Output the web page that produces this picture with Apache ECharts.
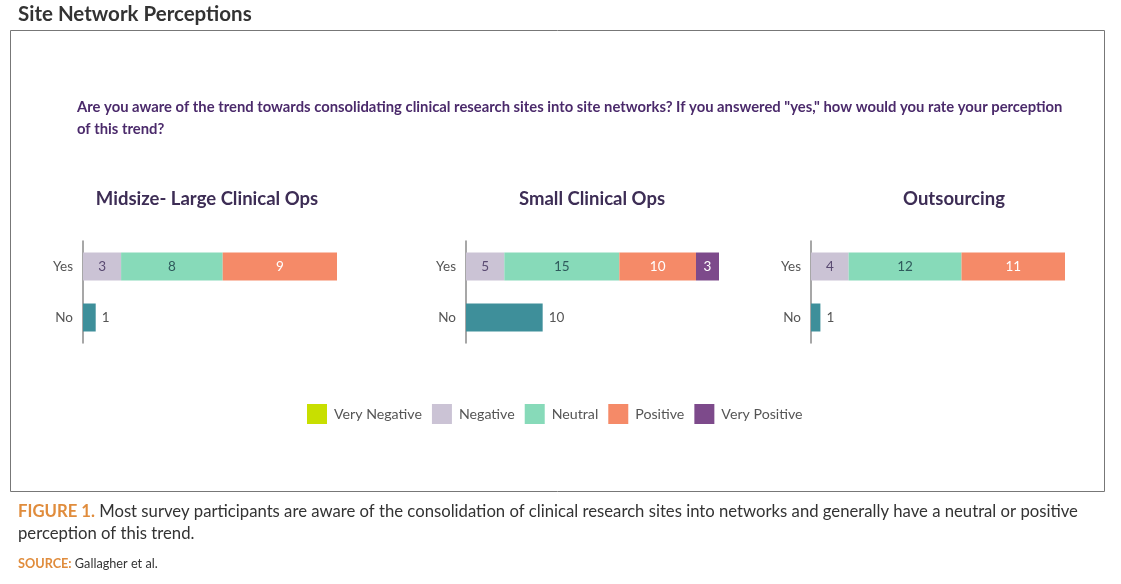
<!DOCTYPE html>
<html>
<head>
<meta charset="utf-8">
<style>
  html, body { margin: 0; padding: 0; background: #fff; }
  #main { width: 1121px; height: 584px; }
</style>
<script src="https://cdn.jsdelivr.net/npm/echarts@6/dist/echarts.min.js"></script>
</head>
<body>
<div id="main"></div>
<script>
// 数据
const groups = ['Midsize- Large Clinical Ops', 'Small Clinical Ops', 'Outsourcing']
const rows = ['Yes', 'No']
const levels = ['Very Negative', 'Negative', 'Neutral', 'Positive', 'Very Positive']
const veryNegative = [0, 0, 0]
const negative = [3, 5, 4]
const neutral = [8, 15, 12]
const positive = [9, 10, 11]
const veryPositive = [0, 3, 0]
const noCounts = [1, 10, 1]

const levelValues = [veryNegative, negative, neutral, positive, veryPositive]
const levelColors = ['#c8df00', '#cbc3d5', '#87dab9', '#f58a68', '#7d4a8b']
const labelColors = ['#333', '#5a4a72', '#2f5a5c', '#ffffff', '#ffffff']
const noColor = '#3e8f9a'

// 布局
const grids = [
  { left: 83, width: 254, titleX: 202 },
  { left: 466, width: 253, titleX: 587 },
  { left: 811, width: 254, titleX: 949 }
]
const font = 'Lato, "Open Sans", sans-serif'

const chart = echarts.init(document.getElementById('main'))

const grid = []
const xAxis = []
const yAxis = []
const series = []
const titles = []

groups.forEach((g, i) => {
  grid.push({ left: grids[i].left, width: grids[i].width, top: 241, height: 102 })
  const total = levelValues.reduce((s, arr) => s + arr[i], 0)
  xAxis.push({ gridIndex: i, type: 'value', min: 0, max: total, show: false })
  yAxis.push({
    gridIndex: i,
    type: 'category',
    data: rows,
    inverse: true,
    axisLine: { show: true, lineStyle: { color: '#8a8a8a', width: 1.5 } },
    axisTick: { show: false },
    axisLabel: { color: '#555', fontSize: 13.5, fontFamily: font, margin: 10 }
  })
  levels.forEach((name, k) => {
    series.push({
      name: name,
      type: 'bar',
      stack: 'yes' + i,
      xAxisIndex: i,
      yAxisIndex: i,
      barWidth: 28,
      itemStyle: { color: levelColors[k] },
      label: {
        show: true,
        position: 'inside',
        color: labelColors[k],
        fontSize: 13.5,
        fontFamily: font,
        formatter: p => (p.value ? p.value : '')
      },
      data: [levelValues[k][i] || '-', '-']
    })
  })
  series.push({
    name: 'No',
    type: 'bar',
    stack: 'yes' + i,
    xAxisIndex: i,
    yAxisIndex: i,
    barWidth: 28,
    itemStyle: { color: noColor },
    label: {
      show: true,
      position: 'right',
      distance: 6,
      color: '#555',
      fontSize: 13.5,
      fontFamily: font
    },
    data: ['-', noCounts[i]]
  })
  titles.push({
    text: g,
    left: grids[i].titleX,
    top: 185,
    textAlign: 'center',
    textStyle: { color: '#3d2d55', fontSize: 18.5, fontWeight: 'bold', fontFamily: font }
  })
})

const option = {
  animation: false,
  title: titles,
  grid: grid,
  xAxis: xAxis,
  yAxis: yAxis,
  series: series,
  legend: {
    data: levels,
    left: 307,
    top: 404,
    padding: 0,
    itemWidth: 20,
    itemHeight: 20,
    itemGap: 10,
    icon: 'rect',
    textStyle: { color: '#555', fontSize: 14.2, fontFamily: font, padding: [0, 0, 0, 2] }
  },
  graphic: [
    {
      type: 'text',
      left: 18,
      top: 4,
      style: { text: 'Site Network Perceptions', fill: '#333', fontSize: 20.5, fontFamily: font, fontWeight: 'bold' }
    },
    {
      type: 'rect',
      shape: { x: 10.5, y: 30.5, width: 1094, height: 461 },
      style: { fill: 'none', stroke: '#777', lineWidth: 1 }
    },
    {
      type: 'text',
      left: 77,
      top: 96,
      style: {
        text: 'Are you aware of the trend towards consolidating clinical research sites into site networks? If you answered "yes," how would you rate your perception\nof this trend?',
        fill: '#4b2a6b',
        fontSize: 14.8,
        fontWeight: 'bold',
        lineHeight: 22,
        fontFamily: font
      }
    },
    {
      type: 'text',
      left: 18,
      top: 501,
      style: {
        text: '{b|FIGURE 1.} Most survey participants are aware of the consolidation of clinical research sites into networks and generally have a neutral or positive\nperception of this trend.',
        fill: '#333',
        fontSize: 16.7,
        lineHeight: 22,
        fontFamily: font,
        rich: {
          b: { fill: '#e08c3c', fontWeight: 'bold', fontSize: 16.7, fontFamily: font }
        }
      }
    },
    {
      type: 'text',
      left: 18,
      top: 557,
      style: {
        text: '{b|SOURCE:} Gallagher et al.',
        fill: '#333',
        fontSize: 12.7,
        fontFamily: font,
        rich: {
          b: { fill: '#e08c3c', fontWeight: 'bold', fontSize: 12.7, fontFamily: font }
        }
      }
    }
  ]
}

chart.setOption(option)
</script>
</body>
</html>
